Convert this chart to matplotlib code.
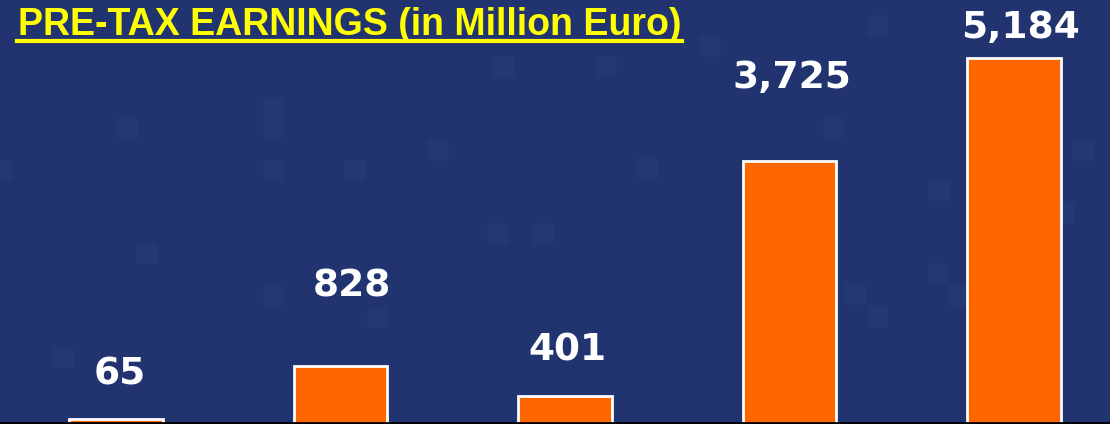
import matplotlib.pyplot as plt
from matplotlib.patches import Rectangle
from matplotlib.lines import Line2D

# data
earnings = [65, 828, 401, 3725, 5184]
value_labels = [f'{v:,}' for v in earnings]

bg = '#213470'
bar_color = '#ff6600'

W, H = 1110, 424
fig = plt.figure(figsize=(W / 100, H / 100), dpi=100, facecolor=bg)

# faint decorative squares in the background (figure pixels: x, y from top, w, h)
squares = [(127, 128, 20, 20), (273, 118, 20, 40), (273, 170, 20, 20), (355, 170, 20, 20),
           (438, 150, 20, 20), (2, 170, 20, 20), (147, 253, 20, 20), (273, 295, 20, 20),
           (377, 317, 20, 20), (497, 233, 20, 20), (543, 233, 20, 20), (503, 67, 20, 20),
           (606, 66, 20, 20), (710, 46, 20, 20), (877, 25, 20, 20), (833, 128, 20, 20),
           (1083, 150, 20, 20), (647, 168, 20, 20), (939, 190, 20, 20), (1063, 212, 20, 20),
           (938, 273, 20, 20), (958, 296, 20, 20), (855, 294, 20, 20), (877, 316, 20, 20),
           (63, 357, 20, 20)]
for cx, cy, w, h in squares:
    fig.patches.append(Rectangle(((cx - w / 2) / W, 1 - (cy + h / 2) / H), w / W, h / H,
                                 transform=fig.transFigure, color='#243874', zorder=0))

ax = fig.add_axes([0, 1.5 / H, 1, 1 - 1.5 / H])
ax.set_zorder(1)
ax.set_facecolor('none')
x = range(len(earnings))
bars = ax.bar(x, earnings, width=0.415, color=bar_color, edgecolor='white', linewidth=2, zorder=2)
ax.set_xlim(-0.517, 4.428)
ax.set_ylim(21, 6008)

# labels were placed by hand in the original, offsets in points
gaps = [25, 50, 25, 52.5, 14.5]
shifts = [3, 8.5, 2, 1.5, 5]
for i, b in enumerate(bars):
    ax.annotate(value_labels[i], (b.get_x() + b.get_width() / 2, b.get_height()),
                xytext=(shifts[i], gaps[i]), textcoords='offset points',
                ha='center', va='baseline', color='white', fontsize=27,
                fontweight='bold', family='DejaVu Sans')

for s in ['left', 'right', 'top']:
    ax.spines[s].set_visible(False)
ax.spines['bottom'].set_color('black')
ax.spines['bottom'].set_linewidth(2)
ax.spines['bottom'].set_zorder(3)
ax.set_xticks([])
ax.set_yticks([])

title = fig.text(18 / W, 1 - 35 / H, 'PRE-TAX EARNINGS (in Million Euro)', color='#ffff00',
                 fontsize=27, fontweight='bold', family='Liberation Sans',
                 ha='left', va='baseline')
fig.canvas.draw()
bb = title.get_window_extent()
y_ul = 1 - 41 / H
fig.lines.append(Line2D([bb.x0 / W - 1 / W, bb.x1 / W + 1 / W], [y_ul, y_ul],
                        transform=fig.transFigure, color='#ffff00', linewidth=3))

fig.savefig('out.png', dpi=100, facecolor=bg)
